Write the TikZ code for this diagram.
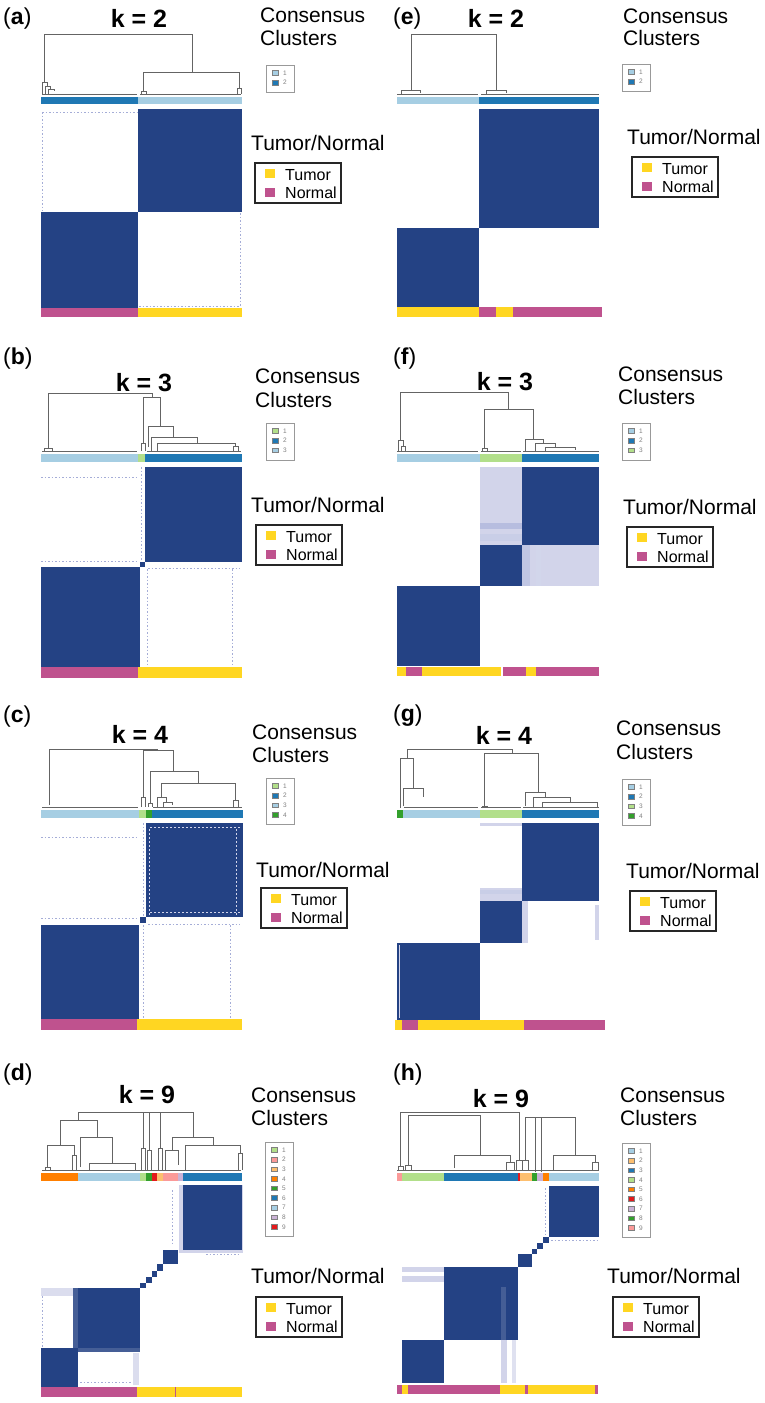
\documentclass[tikz,border=0pt]{standalone}
\usepackage{fontspec}
\setmainfont{Liberation Sans}
\definecolor{hm}{RGB}{36,66,132}
\definecolor{lav}{RGB}{210,212,234}
\definecolor{lavd}{RGB}{165,173,215}
\definecolor{cLB}{HTML}{A6CEE3}
\definecolor{cDB}{HTML}{1F78B4}
\definecolor{cLG}{HTML}{B2DF8A}
\definecolor{cG}{HTML}{33A02C}
\definecolor{cPK}{HTML}{FB9A99}
\definecolor{cR}{HTML}{E31A1C}
\definecolor{cLO}{HTML}{FDBF6F}
\definecolor{cO}{HTML}{FF7F00}
\definecolor{cLV}{HTML}{CAB2D6}
\definecolor{tum}{RGB}{255,214,34}
\definecolor{nor}{RGB}{191,82,142}
\definecolor{dend}{RGB}{100,100,100}
\tikzset{
 dg/.style={draw=dend, line width=0.75pt},
 lbl/.style={font=\fontsize{23}{25}\selectfont, anchor=base west, inner sep=0},
 ktitle/.style={font=\fontsize{25}{27}\selectfont\bfseries, anchor=base, inner sep=0},
 ctext/.style={font=\fontsize{21}{23}\selectfont, anchor=base west, inner sep=0},
 ltext/.style={font=\fontsize{16}{18}\selectfont, anchor=base west, inner sep=0},
 numtext/.style={font=\fontsize{6.5}{7}\selectfont, text=gray, inner sep=0},
 lbox/.style={draw=black!85, line width=1.2pt},
 cbox/.style={draw=gray!80, line width=0.9pt},
 fr/.style={draw=lavd, line width=0.6pt, dash pattern=on 1.5pt off 2pt},
}
\newcommand{\tnlegend}[3]{%
 \draw[lbox] (#2,#3) rectangle ++(86,40);
 \fill[tum] (#2+10,#3+6) rectangle ++(10,9);
 \fill[nor] (#2+10,#3+25) rectangle ++(10,9);
 \node[ltext] (#1-t) at (#2+30,#3+17) {Tumor};
 \node[ltext] (#1-n) at (#2+30,#3+35) {Normal};
}
\newcommand{\cclegend}[5]{%
 \draw[cbox] (#2,#3) rectangle ++(28,{8+9.6*(#4-1)+10});
 \foreach \c [count=\i] in {#5} {
   \draw[draw=gray, line width=0.5pt, fill=\c] (#2+6,{#3+8+9.6*\i-9.6-2.3}) rectangle ++(6,4.6);
   \node[numtext] (#1-\i) at (#2+19,{#3+8+9.6*\i-9.6}) {\i};
 }
}
\newcommand{\lnk}[5]{\draw[dg] (#1,#2) |- (#3,#5) -- (#3,#4);}
\begin{document}
\begin{tikzpicture}[x=1pt,y=-1pt]
\useasboundingbox (0,0) rectangle (765,1403);
\fill[white] (0,0) rectangle (765,1403);

%%%%%%%%%%%%%%%% (a)
\node[lbl] (lab-a) at (3,24) {(\textbf{a})};
\node[ktitle] (k-a) at (139,27) {k = 2};
\node[ctext] (cc-a) at (260,22) {Consensus};
\node[ctext] (cl-a) at (260,45) {Clusters};
\node[ctext] (tn-a) at (251,150) {Tumor/Normal};
\cclegend{ca}{266}{65}{2}{cLB,cDB}
\tnlegend{la}{255}{163}
\lnk{44}{82}{192}{72}{34}
\lnk{143}{92}{239}{88}{72}
\lnk{42}{94}{47}{86}{82}
\lnk{45}{94}{50}{89}{86}
\lnk{48}{94}{54}{91}{89}
\lnk{141}{94}{146}{94}{91}
\lnk{237}{94}{241}{94}{88}
\draw[dg] (42,94.5)--(137,94.5) (140,94.5)--(241,94.5);
\fill[cDB] (41,97) rectangle (138,104);
\fill[cLB] (138,97) rectangle (242,104);
\fill[hm] (138,109) rectangle (242,212);
\fill[hm] (41,212) rectangle (138,308);
\draw[fr] (42,112)--(137,112) (42.5,112)--(42.5,211) (240,213)--(240,306) (139,306)--(240,306);
\fill[nor] (41,308) rectangle (138,317);
\fill[tum] (138,308) rectangle (242,317);

%%%%%%%%%%%%%%%% (e)
\node[lbl] (lab-e) at (393,24) {(\textbf{e})};
\node[ktitle] (k-e) at (496,27) {k = 2};
\node[ctext] (cc-e) at (623,23) {Consensus};
\node[ctext] (cl-e) at (623,45) {Clusters};
\node[ctext] (tn-e) at (627,144) {Tumor/Normal};
\cclegend{ce}{622}{64}{2}{cLB,cDB}
\tnlegend{le}{632}{157}
\lnk{411}{90}{496}{90}{34}
\lnk{401}{94}{420}{93}{90}
\lnk{486}{94}{506}{93}{90}
\draw[dg] (397,94.5)--(478,94.5) (481,94.5)--(599,94.5);
\fill[cLB] (397,97) rectangle (479,104);
\fill[cDB] (479,97) rectangle (599,104);
\fill[hm] (479,109) rectangle (599,228);
\fill[hm] (397,228) rectangle (479,307);
\fill[tum] (397,307) rectangle (479,317);
\fill[nor] (479,307) rectangle (496,317);
\fill[tum] (496,307) rectangle (513,317);
\fill[nor] (513,307) rectangle (602,317);

%%%%%%%%%%%%%%%% (b)
\node[lbl] (lab-b) at (3,364) {(\textbf{b})};
\node[ktitle] (k-b) at (144,391) {k = 3};
\node[ctext] (cc-b) at (255,383) {Consensus};
\node[ctext] (cl-b) at (255,407) {Clusters};
\node[ctext] (tn-b) at (251,512) {Tumor/Normal};
\cclegend{cb}{266}{423}{3}{cLG,cDB,cLB}
\tnlegend{lb}{256}{525}
\lnk{48}{448}{152}{397}{393}
\lnk{44}{451}{52}{451}{448}
\lnk{143}{443}{160}{426}{397}
\lnk{141}{451}{145}{451}{443}
\lnk{148}{447}{173}{437}{426}
\lnk{151}{451}{197}{443}{437}
\lnk{157}{451}{235}{446}{443}
\lnk{233}{451}{238}{451}{446}
\draw[dg] (42,451.5)--(137,451.5) (147,451.5)--(241,451.5);
\fill[cLB] (41,454) rectangle (138,462);
\fill[cLG] (138,454) rectangle (145,462);
\fill[cDB] (145,454) rectangle (242,462);
\fill[hm] (145,467) rectangle (242,562);
\fill[hm] (140,562) rectangle (145,567);
\fill[hm] (41,567) rectangle (140,667);
\draw[fr] (41,477)--(138,477) (41,561)--(139,561) (141,467)--(141,560) (147,569)--(147,667) (232,569)--(232,667) (148,568.5)--(240,568.5);
\fill[nor] (41,667) rectangle (138,678);
\fill[tum] (138,667) rectangle (242,678);

%%%%%%%%%%%%%%%% (f)
\node[lbl] (lab-f) at (393,364) {(\textbf{f})};
\node[ktitle] (k-f) at (505,390) {k = 3};
\node[ctext] (cc-f) at (618,381) {Consensus};
\node[ctext] (cl-f) at (618,404) {Clusters};
\node[ctext] (tn-f) at (623,514) {Tumor/Normal};
\cclegend{cf}{622}{423}{3}{cLB,cDB,cLG}
\tnlegend{lf}{627}{527}
\lnk{400}{440}{508}{409}{392}
\lnk{398}{451}{403}{446}{440}
\lnk{401}{451}{405}{451}{446}
\lnk{484}{448}{533}{439}{409}
\lnk{482}{451}{487}{451}{448}
\lnk{525}{451}{543}{443}{439}
\lnk{535}{451}{555}{447}{443}
\lnk{545}{451}{575}{450}{447}
\draw[dg] (397,451.5)--(478,451.5) (481,451.5)--(521,451.5) (523,451.5)--(599,451.5);
\fill[cLB] (397,454) rectangle (480,462);
\fill[cLG] (480,454) rectangle (522,462);
\fill[cDB] (522,454) rectangle (599,462);
\fill[lav] (480,467) rectangle (522,545);
\fill[lavd!80] (480,523) rectangle (522,529);
\fill[lavd!60] (480,534) rectangle (522,541);
\fill[hm] (522,467) rectangle (599,545);
\fill[hm] (480,545) rectangle (522,586);
\fill[lav] (522,545) rectangle (599,586);
\fill[lavd!70] (522,545) rectangle (530,586);
\fill[lavd!50] (536,545) rectangle (541,586);
\fill[hm] (397,586) rectangle (480,666);
\fill[tum] (397,667) rectangle (406,676);
\fill[nor] (406,667) rectangle (422,676);
\fill[tum] (422,667) rectangle (501,676);
\fill[nor] (503,667) rectangle (526,676);
\fill[tum] (526,667) rectangle (536,676);
\fill[nor] (536,667) rectangle (599,676);

%%%%%%%%%%%%%%%% (c)
\node[lbl] (lab-c) at (3,722) {(\textbf{c})};
\node[ktitle] (k-c) at (140,743) {k = 4};
\node[ctext] (cc-c) at (252,739) {Consensus};
\node[ctext] (cl-c) at (252,762) {Clusters};
\node[ctext] (tn-c) at (256,877) {Tumor/Normal};
\cclegend{cc}{266}{778}{4}{cLG,cDB,cLB,cG}
\tnlegend{lc}{261}{888}
\lnk{49}{805}{157}{750}{749}
\lnk{143}{797}{173}{771}{750}
\lnk{141}{807}{145}{807}{797}
\lnk{150}{803}{198}{783}{771}
\lnk{148}{807}{152}{807}{803}
\lnk{161}{797}{235}{800}{783}
\lnk{157}{807}{166}{802}{797}
\lnk{163}{807}{172}{805}{802}
\lnk{233}{807}{238}{807}{800}
\draw[dg] (42,807.5)--(138,807.5) (153,807.5)--(242,807.5);
\fill[cLB] (41,810) rectangle (139,818);
\fill[cLG] (139,810) rectangle (146,818);
\fill[cG] (146,810) rectangle (152,818);
\fill[cDB] (152,810) rectangle (243,818);
\fill[hm] (146,823) rectangle (243,917);
\draw[draw=lav, line width=0.6pt, dash pattern=on 2pt off 2pt] (150,827)--(240,827) (149,829)--(149,915) (236,829)--(236,915) (150,912)--(240,912);
\fill[hm] (140,917) rectangle (146,923);
\fill[hm] (41,925) rectangle (139,1019);
\draw[fr] (41,837)--(139,837) (41,918)--(139,918) (143,823)--(143,916) (143,925)--(143,1019) (230,925)--(230,1019) (148,924)--(240,924);
\fill[nor] (41,1019) rectangle (137,1030);
\fill[tum] (137,1019) rectangle (242,1030);

%%%%%%%%%%%%%%%% (g)
\node[lbl] (lab-g) at (393,721) {(\textbf{g})};
\node[ktitle] (k-g) at (504,744) {k = 4};
\node[ctext] (cc-g) at (616,735) {Consensus};
\node[ctext] (cl-g) at (616,759) {Clusters};
\node[ctext] (tn-g) at (626,878) {Tumor/Normal};
\cclegend{cg}{622}{779}{4}{cLB,cDB,cLG,cG}
\tnlegend{lg}{630}{891}
\lnk{407}{758}{512}{753}{749}
\lnk{400}{808}{413}{788}{758}
\lnk{403}{806}{423}{797}{788}
\lnk{484}{806}{538}{792}{753}
\lnk{482}{808}{487}{808}{806}
\lnk{525}{806}{545}{797}{792}
\lnk{533}{808}{570}{802}{797}
\lnk{542}{808}{597}{808}{802}
\draw[dg] (404,807.5)--(478,807.5) (481,807.5)--(521,807.5) (523,807.5)--(599,807.5);
\fill[cG] (397,810) rectangle (403,818);
\fill[cLB] (403,810) rectangle (480,818);
\fill[cLG] (480,810) rectangle (522,818);
\fill[cDB] (522,810) rectangle (599,818);
\fill[lav] (480,823) rectangle (522,826);
\fill[hm] (522,823) rectangle (599,901);
\fill[lav] (480,888) rectangle (522,901);
\fill[lavd!60] (480,890) rectangle (522,894);
\fill[hm] (480,901) rectangle (522,943);
\fill[lav] (522,901) rectangle (528,943);
\fill[lav] (595,905) rectangle (599,940);
\fill[hm] (397,943) rectangle (480,1020);
\draw[draw=lav, line width=0.6pt] (399,945)--(399,1018);
\fill[tum] (395,1020) rectangle (402,1030);
\fill[nor] (402,1020) rectangle (418,1030);
\fill[tum] (418,1020) rectangle (524,1030);
\fill[nor] (524,1020) rectangle (605,1030);

%%%%%%%%%%%%%%%% (d)
\node[lbl] (lab-d) at (3,1080) {(\textbf{d})};
\node[ktitle] (k-d) at (147,1103) {k = 9};
\node[ctext] (cc-d) at (251,1102) {Consensus};
\node[ctext] (cl-d) at (251,1125) {Clusters};
\node[ctext] (tn-d) at (251,1283) {Tumor/Normal};
\cclegend{cd}{265}{1142}{9}{cLG,cPK,cLO,cO,cG,cDB,cLB,cLV,cR}
\tnlegend{ld}{256}{1297}
\lnk{78}{1120}{193}{1137}{1112}
\lnk{60}{1145}{97}{1137}{1120}
\lnk{47}{1167}{74}{1155}{1145}
\lnk{45}{1170}{50}{1170}{1167}
\lnk{72}{1170}{76}{1170}{1155}
\lnk{80}{1167}{112}{1163}{1137}
\lnk{89}{1170}{135}{1170}{1163}
\draw[dg] (143,1112)--(143,1148) (149,1112)--(149,1150) (160,1112)--(160,1148);
\lnk{141}{1170}{145}{1170}{1148}
\lnk{147}{1170}{151}{1170}{1150}
\lnk{158}{1170}{162}{1170}{1148}
\lnk{172}{1150}{213}{1145}{1137}
\lnk{165}{1170}{178}{1165}{1150}
\lnk{185}{1170}{240}{1153}{1145}
\lnk{238}{1170}{242}{1170}{1153}
\draw[dg] (42,1170.5)--(241,1170.5);
\fill[cO] (41,1173) rectangle (78,1181);
\fill[cLB] (78,1173) rectangle (140,1181);
\fill[cLG] (140,1173) rectangle (146,1181);
\fill[cG] (146,1173) rectangle (152,1181);
\fill[cR] (152,1173) rectangle (157,1181);
\fill[cLO] (157,1173) rectangle (163,1181);
\fill[cPK] (163,1173) rectangle (178,1181);
\fill[cLV] (178,1173) rectangle (183,1181);
\fill[cDB] (183,1173) rectangle (242,1181);
\fill[lav] (179,1185) rectangle (243,1253);
\fill[hm] (183,1185) rectangle (242,1250);
\fill[hm] (163,1250) rectangle (178,1264);
\fill[hm] (157,1264) rectangle (163,1271);
\fill[hm] (152,1271) rectangle (157,1277);
\fill[hm] (146,1277) rectangle (152,1283);
\fill[hm] (140,1283) rectangle (146,1288);
\fill[lav!80] (41,1288) rectangle (78,1296);
\draw[fr] (42.5,1296)--(42.5,1348);
\fill[hm] (78,1288) rectangle (140,1348);
\fill[hm!85] (73,1288) rectangle (78,1348);
\fill[hm] (41,1348) rectangle (78,1387);
\fill[hm!85] (78,1348) rectangle (140,1352);
\fill[lav!80] (133,1353) rectangle (139,1385);
\draw[fr] (80,1382)--(132,1382);
\draw[fr] (172,1190)--(172,1245) (206,1254)--(240,1254);
\fill[nor] (41,1387) rectangle (137,1397);
\fill[tum] (137,1387) rectangle (242,1397);
\fill[nor] (174.5,1387) rectangle (176,1397);

%%%%%%%%%%%%%%%% (h)
\node[lbl] (lab-h) at (393,1080) {(\textbf{h})};
\node[ktitle] (k-h) at (501,1107) {k = 9};
\node[ctext] (cc-h) at (620,1102) {Consensus};
\node[ctext] (cl-h) at (620,1125) {Clusters};
\node[ctext] (tn-h) at (607,1283) {Tumor/Normal};
\cclegend{ch}{622}{1143}{9}{cLB,cLO,cDB,cLG,cO,cR,cLV,cG,cPK}
\tnlegend{lh}{613}{1297}
\lnk{400}{1166}{519}{1160}{1112}
\lnk{408}{1165}{480}{1155}{1115}
\lnk{454}{1168}{510}{1162}{1155}
\lnk{506}{1170}{514}{1170}{1162}
\lnk{398}{1170}{403}{1170}{1166}
\lnk{405}{1170}{411}{1170}{1165}
\lnk{516}{1170}{522}{1170}{1160}
\lnk{525}{1160}{575}{1155}{1117}
\lnk{522}{1170}{528}{1170}{1160}
\lnk{553}{1170}{595}{1162}{1155}
\lnk{592}{1170}{598}{1170}{1162}
\draw[dg] (535,1117)--(535,1172) (541,1117)--(541,1172);
\draw[dg] (397,1170.5)--(599,1170.5);
\fill[cPK] (397,1173) rectangle (402,1181);
\fill[cLG] (402,1173) rectangle (444,1181);
\fill[cDB] (444,1173) rectangle (518,1181);
\fill[cR] (518,1173) rectangle (520,1181);
\fill[cLO] (520,1173) rectangle (532,1181);
\fill[cG] (532,1173) rectangle (537,1181);
\fill[cLV] (537,1173) rectangle (543,1181);
\fill[cO] (543,1173) rectangle (549,1181);
\fill[cLB] (549,1173) rectangle (599,1181);
\fill[hm] (549,1186) rectangle (599,1237);
\draw[fr] (545,1188)--(545,1235) (551,1240)--(597,1240);
\fill[hm] (543,1237) rectangle (549,1243);
\fill[hm] (537,1243) rectangle (543,1249);
\fill[hm] (532,1249) rectangle (537,1254);
\fill[hm] (518,1254) rectangle (532,1267);
\fill[hm] (444,1267) rectangle (518,1340);
\fill[lav] (402,1267) rectangle (444,1272);
\fill[lav] (402,1276) rectangle (444,1282);
\fill[hm!85] (501,1287) rectangle (506,1340);
\fill[lav] (501,1340) rectangle (507,1383);
\fill[lav!70] (512,1340) rectangle (516,1383);
\fill[hm] (402,1340) rectangle (444,1383);
\fill[nor] (397,1385) rectangle (402,1394);
\fill[tum] (402,1385) rectangle (408,1394);
\fill[nor] (408,1385) rectangle (500,1394);
\fill[tum] (500,1385) rectangle (525,1394);
\fill[nor] (525,1385) rectangle (528,1394);
\fill[tum] (528,1385) rectangle (595,1394);
\fill[nor] (595,1385) rectangle (598,1394);
\end{tikzpicture}
\end{document}
